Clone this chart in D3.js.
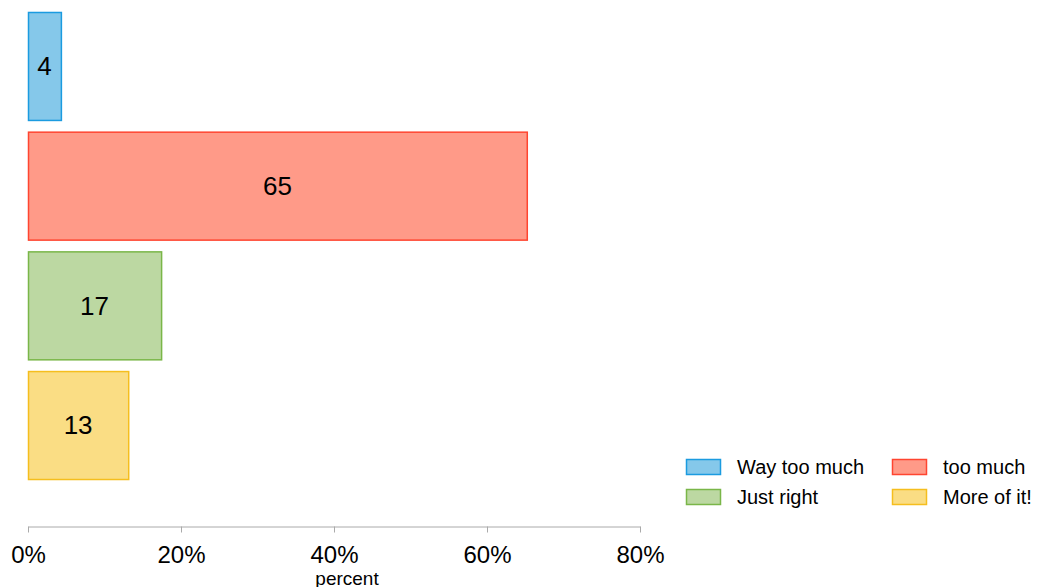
<!DOCTYPE html>
<html><head><meta charset="utf-8">
<script src="https://cdn.jsdelivr.net/npm/d3@7"></script>
<style>body{margin:0;background:#fff}svg{display:block;font-family:"Liberation Sans",Arial,sans-serif}</style>
</head><body>
<svg id="c" width="1038" height="587"></svg>
<script>
const categories = ["Way too much", "too much", "Just right", "More of it!"];
const values = [4.3, 65.2, 17.4, 13.1];
const labels = ["4", "65", "17", "13"];
const tickValues = [0, 20, 40, 60, 80];
const fills = ["#85C8EA", "#FF9A88", "#BCD8A2", "#FADD84"];
const strokes = ["#1B9BE0", "#FF4530", "#7AB648", "#F5BE1E"];

const svg = d3.select("#c");
const x = d3.scaleLinear().domain([0, 80]).range([28, 640]);
const y = d3.scaleBand().domain(categories).range([6, 485]).paddingInner(0.098).paddingOuter(0.05);

const g = svg.append("g");
g.selectAll("rect.bar").data(categories).join("rect")
  .attr("class", "bar")
  .attr("x", x(0) + 0.5)
  .attr("y", d => y(d) + 0.5)
  .attr("width", (d, i) => x(values[i]) - x(0))
  .attr("height", y.bandwidth())
  .attr("fill", (d, i) => fills[i])
  .attr("stroke", (d, i) => strokes[i])
  .attr("stroke-width", 1.5);

g.selectAll("text.lbl").data(categories).join("text")
  .attr("class", "lbl")
  .attr("x", (d, i) => (x(0) + x(values[i])) / 2)
  .attr("y", d => y(d) + y.bandwidth() / 2)
  .attr("dy", "0.36em")
  .attr("text-anchor", "middle")
  .attr("font-size", 26)
  .attr("fill", "#000")
  .text((d, i) => labels[i]);

const axis = d3.axisBottom(x).tickValues(tickValues).tickFormat(d => d + "%").tickSize(6).tickSizeOuter(0);
const ax = svg.append("g").attr("transform", "translate(0,526.5)").call(axis);
ax.select(".domain").attr("stroke", "#aaa");
ax.selectAll(".tick line").attr("stroke", "#aaa").attr("y1", 0).attr("y2", 6);
ax.selectAll(".tick text").attr("font-size", 24).attr("fill", "#000").attr("dy", 0).attr("y", 36)
  .attr("font-family", "'Liberation Sans', Arial, sans-serif");

svg.append("text").attr("x", 347).attr("y", 584.5).attr("text-anchor", "middle")
  .attr("font-size", 19).attr("fill", "#000").text("percent");

const legPos = [[686, 459], [892, 459], [686, 489], [892, 489]];
const lg = svg.append("g");
categories.forEach((c, i) => {
  lg.append("rect").attr("x", legPos[i][0] + 0.5).attr("y", legPos[i][1] + 0.5)
    .attr("width", 34).attr("height", 15)
    .attr("fill", fills[i]).attr("stroke", strokes[i]).attr("stroke-width", 1.5);
  lg.append("text").attr("x", legPos[i][0] + 51).attr("y", legPos[i][1] + 8)
    .attr("dy", "0.36em").attr("font-size", 20).attr("fill", "#000").text(c);
});
</script>
</body></html>
